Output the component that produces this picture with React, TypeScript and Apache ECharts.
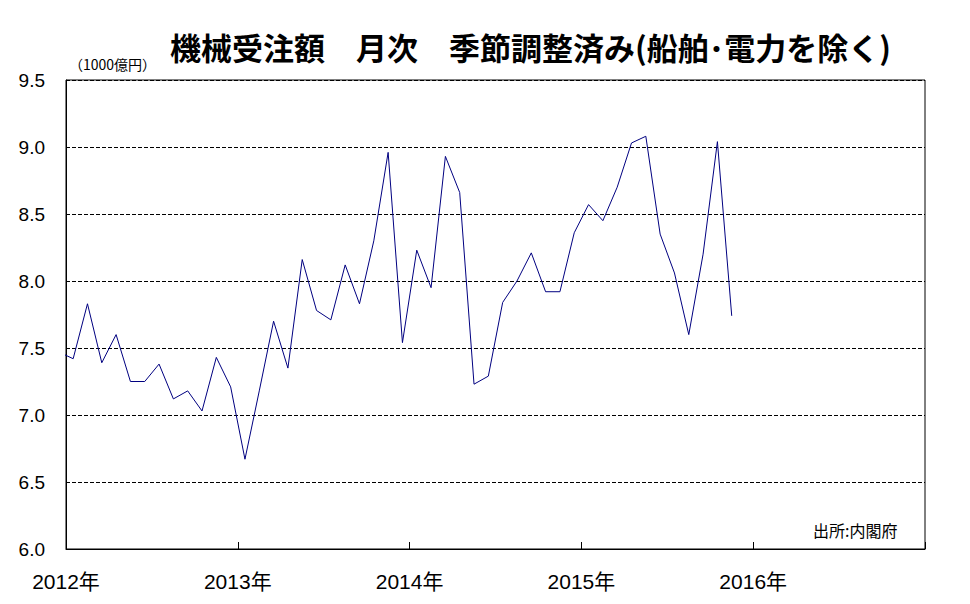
import React, { useEffect, useRef } from "react";
import * as echarts from "echarts";

// Monthly values, starting 2011-12 (clipped at left edge) through 2015-11
const months: string[] = [
  "2011-12",
  "2012-01", "2012-02", "2012-03", "2012-04", "2012-05", "2012-06",
  "2012-07", "2012-08", "2012-09", "2012-10", "2012-11", "2012-12",
  "2013-01", "2013-02", "2013-03", "2013-04", "2013-05", "2013-06",
  "2013-07", "2013-08", "2013-09", "2013-10", "2013-11", "2013-12",
  "2014-01", "2014-02", "2014-03", "2014-04", "2014-05", "2014-06",
  "2014-07", "2014-08", "2014-09", "2014-10", "2014-11", "2014-12",
  "2015-01", "2015-02", "2015-03", "2015-04", "2015-05", "2015-06",
  "2015-07", "2015-08", "2015-09", "2015-10", "2015-11",
];
const values: number[] = [
  7.47,
  7.42, 7.83, 7.39, 7.60, 7.25, 7.25,
  7.38, 7.12, 7.18, 7.03, 7.43, 7.21,
  6.67, 7.18, 7.70, 7.35, 8.16, 7.78,
  7.71, 8.12, 7.83, 8.30, 8.96, 7.54,
  8.23, 7.95, 8.93, 8.66, 7.23, 7.29,
  7.84, 8.00, 8.21, 7.92, 7.92, 8.36,
  8.57, 8.45, 8.70, 9.03, 9.08, 8.35,
  8.06, 7.60, 8.20, 9.04, 7.74,
];
const startYear = 2012;
const yearCount = 5;
const yTicks = { min: 6.0, max: 9.5, interval: 0.5 };

const titleText = "機械受注額\u3000月次\u3000季節調整済み(船舶･電力を除く)";
const unitText = "（1000億円）";
const sourceText = "出所:内閣府";

export default function App() {
  const ref = useRef<HTMLDivElement>(null);
  useEffect(() => {
    if (!ref.current) return;
    const chart = echarts.init(ref.current, null, { renderer: "svg" });
    const data = months.map((m, i) => {
      const [y, mo] = m.split("-").map(Number);
      const idx = (y - startYear) * 12 + (mo - 1) + 0.5;
      return [idx, values[i]];
    });
    chart.setOption({
      animation: false,
      backgroundColor: "#ffffff",
      title: [
        {
          text: titleText,
          left: 165,
          top: 26,
          textStyle: {
            fontFamily: "Noto Sans CJK JP",
            fontWeight: "bold",
            fontSize: 31,
            color: "#000",
          },
        },
        {
          text: unitText,
          left: 64,
          top: 52,
          textStyle: {
            fontFamily: "Noto Sans CJK JP",
            fontWeight: "normal",
            fontSize: 14,
            color: "#000",
          },
        },
        {
          text: sourceText,
          left: 808,
          top: 517,
          textStyle: {
            fontFamily: "Noto Sans CJK JP",
            fontWeight: "normal",
            fontSize: 16,
            color: "#000",
          },
        },
      ],
      grid: {
        left: 66,
        top: 80,
        right: 45,
        bottom: 55,
        show: true,
        borderColor: "#000",
        borderWidth: 1,
        backgroundColor: "transparent",
      },
      xAxis: {
        type: "value",
        min: 0,
        max: yearCount * 12,
        interval: 12,
        axisLine: { show: true, lineStyle: { color: "#000", width: 1 } },
        axisTick: { show: true, inside: true, length: 7, lineStyle: { color: "#000" } },
        splitLine: { show: false },
        axisLabel: {
          color: "#000",
          fontSize: 21,
          fontFamily: "Liberation Sans, Noto Sans CJK JP",
          margin: 22,
          formatter: (v: number) => (v >= yearCount * 12 ? "" : `${startYear + v / 12}年`),
        },
      },
      yAxis: {
        type: "value",
        min: yTicks.min,
        max: yTicks.max,
        interval: yTicks.interval,
        axisLine: { show: true, lineStyle: { color: "#000", width: 1 } },
        axisTick: { show: false },
        splitLine: { show: true, lineStyle: { color: "#000", type: [4, 2], width: 1 } },
        axisLabel: {
          color: "#000",
          fontSize: 19,
          fontFamily: "Liberation Sans",
          margin: 21,
          formatter: (v: number) => v.toFixed(1),
        },
      },
      series: [
        {
          type: "line",
          data,
          symbol: "none",
          clip: true,
          lineStyle: { color: "#000080", width: 1 },
        },
      ],
    });
    return () => chart.dispose();
  }, []);
  return <div ref={ref} style={{ width: 970, height: 604, margin: -8 }} />;
}
